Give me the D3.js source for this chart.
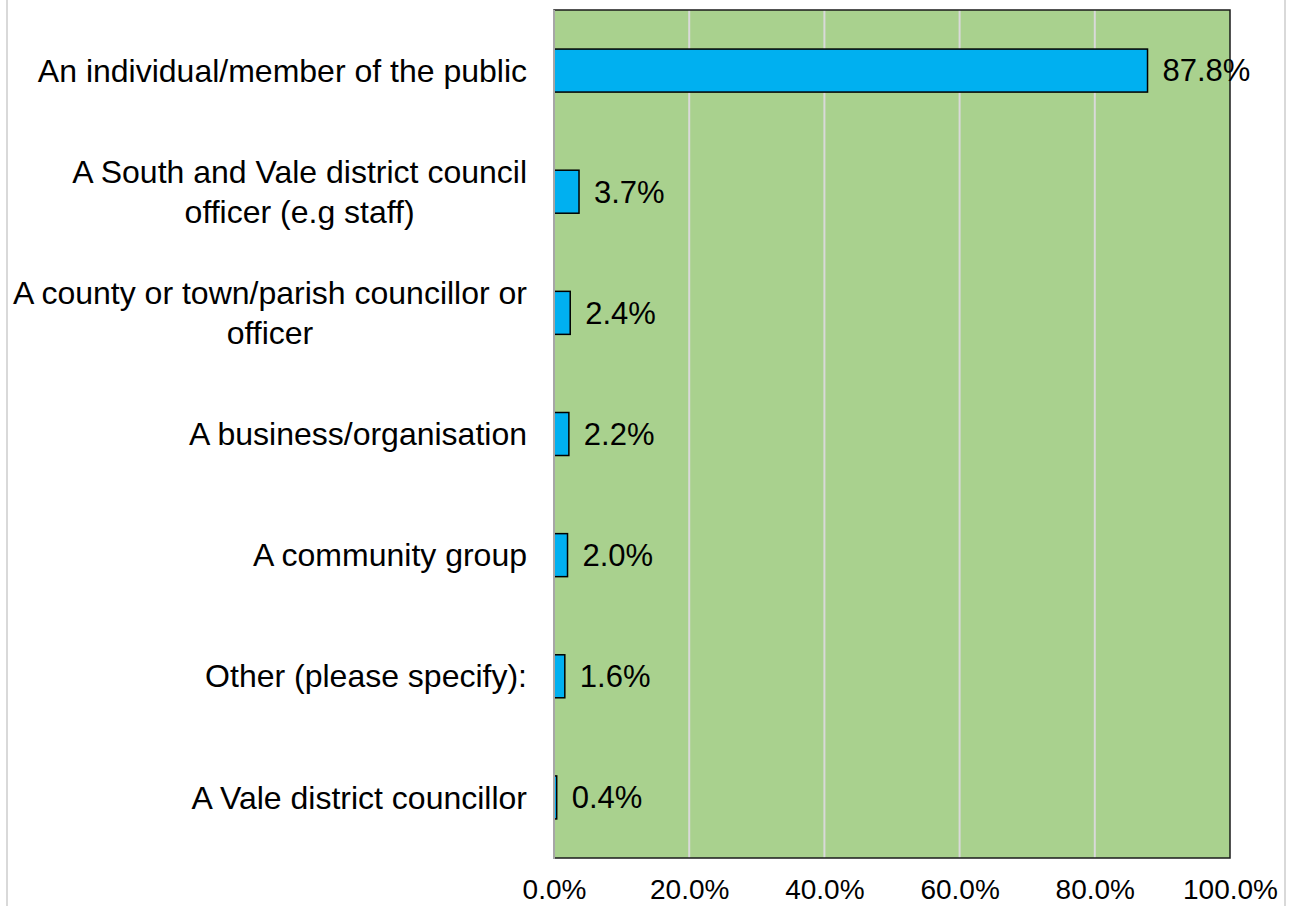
<!DOCTYPE html>
<html>
<head>
<meta charset="utf-8">
<script src="https://cdn.jsdelivr.net/npm/d3@7"></script>
<style>
  html, body { margin: 0; padding: 0; background: #fff; }
  svg { display: block; font-family: "Liberation Sans", Arial, sans-serif; }
</style>
</head>
<body>
<svg id="chart" width="1295" height="906"></svg>
<script>
const categories = [
  ["An individual/member of the public"],
  ["A South and Vale district council", "officer (e.g staff)"],
  ["A county or town/parish councillor or", "officer"],
  ["A business/organisation"],
  ["A community group"],
  ["Other (please specify):"],
  ["A Vale district councillor"]
];
const values = [87.8, 3.7, 2.4, 2.2, 2.0, 1.6, 0.4];
const tickValues = [0, 20, 40, 60, 80, 100];
const tickLabels = ["0.0%", "20.0%", "40.0%", "60.0%", "80.0%", "100.0%"];

const svg = d3.select("#chart");
const plot = { left: 554, right: 1230, top: 10, bottom: 858 };

// outer chart border
svg.append("rect")
  .attr("x", 7).attr("y", -10).attr("width", 1278).attr("height", 940)
  .attr("fill", "none").attr("stroke", "#d9d9d9").attr("stroke-width", 2);

const x = d3.scaleLinear().domain([0, 100]).range([plot.left, plot.right]);
const y = d3.scaleBand().domain(d3.range(categories.length)).range([plot.top, plot.bottom]).paddingInner(0.645).paddingOuter(0.3225);

// plot background
svg.append("rect")
  .attr("x", plot.left).attr("y", plot.top)
  .attr("width", plot.right - plot.left).attr("height", plot.bottom - plot.top)
  .attr("fill", "#a9d18e");

// gridlines
svg.append("g").selectAll("line")
  .data(tickValues.slice(1, -1))
  .join("line")
  .attr("x1", d => x(d)).attr("x2", d => x(d))
  .attr("y1", plot.top).attr("y2", plot.bottom)
  .attr("stroke", "#d9d9d9").attr("stroke-width", 2);

// plot border
svg.append("rect")
  .attr("x", plot.left).attr("y", plot.top)
  .attr("width", plot.right - plot.left).attr("height", plot.bottom - plot.top)
  .attr("fill", "none").attr("stroke", "#1a1a1a").attr("stroke-width", 1.5);

// bars
svg.append("g").selectAll("rect")
  .data(values)
  .join("rect")
  .attr("x", x(0))
  .attr("y", (d, i) => y(i))
  .attr("width", d => x(d) - x(0))
  .attr("height", y.bandwidth())
  .attr("fill", "#00b0f0")
  .attr("stroke", "#000").attr("stroke-width", 1.5);

// vertical axis line
svg.append("line")
  .attr("x1", plot.left).attr("x2", plot.left)
  .attr("y1", plot.top).attr("y2", plot.bottom + 1)
  .attr("stroke", "#a6a6a6").attr("stroke-width", 2);

// data labels
svg.append("g").selectAll("text")
  .data(values)
  .join("text")
  .attr("x", d => x(d) + 15)
  .attr("y", (d, i) => y(i) + y.bandwidth() / 2)
  .attr("dy", "0.35em")
  .attr("font-size", 31)
  .attr("fill", "#000")
  .text(d => d.toFixed(1) + "%");

// x axis tick labels
const xAxis = d3.axisBottom(x).tickValues(tickValues).tickSize(0).tickPadding(0)
  .tickFormat((d, i) => tickLabels[i]);
const gx = svg.append("g").attr("transform", `translate(0,${plot.bottom})`).call(xAxis);
gx.select(".domain").remove();
gx.selectAll("text")
  .attr("font-size", 28)
  .attr("font-family", "'Liberation Sans', Arial, sans-serif")
  .attr("fill", "#000")
  .attr("y", 31)
  .attr("dy", "0.35em");

// category labels
const labelRight = 527;
const lineH = 40;
const cg = svg.append("g");
categories.forEach((lines, i) => {
  const cy = y(i) + y.bandwidth() / 2;
  const g = cg.append("g");
  const texts = lines.map((ln, j) => g.append("text")
    .attr("font-size", 32)
    .attr("fill", "#000")
    .attr("dy", "0.35em")
    .attr("y", cy + (j - (lines.length - 1) / 2) * lineH)
    .text(ln));
  const maxW = d3.max(texts, t => t.node().getComputedTextLength());
  texts.forEach(t => t.attr("text-anchor", "middle").attr("x", labelRight - maxW / 2));
});
</script>
</body>
</html>
